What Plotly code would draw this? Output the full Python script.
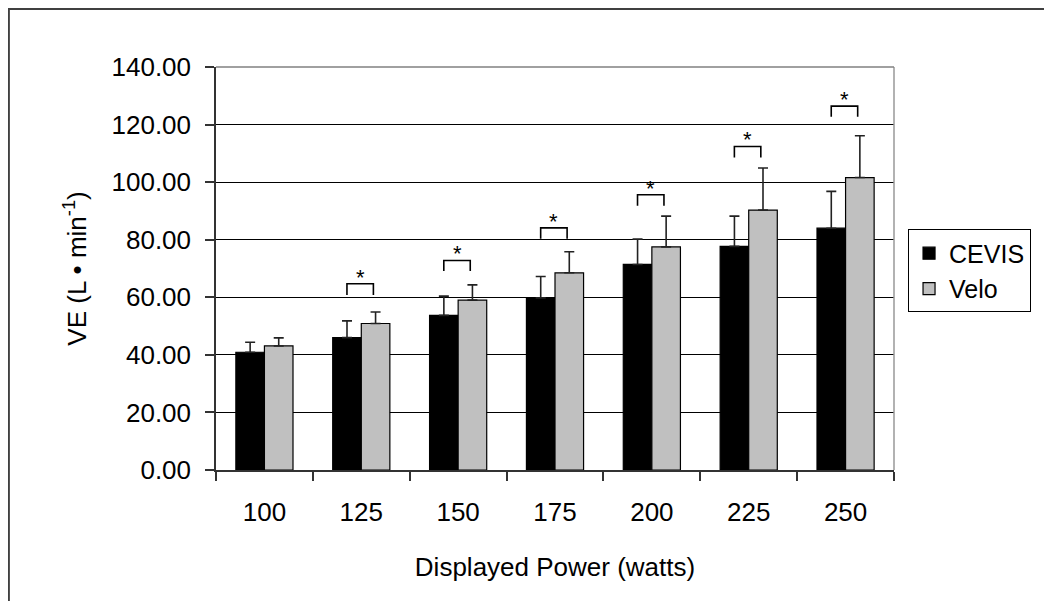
import plotly.graph_objects as go

# ---- data ----
categories = ["100", "125", "150", "175", "200", "225", "250"]
cevis = [40.9, 46.0, 53.7, 59.8, 71.4, 77.7, 84.0]
cevis_sd = [3.5, 5.8, 6.7, 7.4, 8.8, 10.5, 12.8]
velo = [43.1, 50.9, 59.0, 68.5, 77.5, 90.3, 101.6]
velo_sd = [2.8, 4.0, 5.3, 7.3, 10.7, 14.6, 14.5]
# significance brackets: category index, top of bracket, bottom of legs
sig_idx = [1, 2, 3, 4, 5, 6]
sig_top = [64.7, 72.8, 84.1, 95.6, 112.4, 126.4]
sig_bottom = [60.8, 69.1, 80.3, 91.8, 108.6, 122.7]
y_ticks = [0, 20, 40, 60, 80, 100, 120, 140]

FONT = "Liberation Sans, Arial, sans-serif"
FS = 26

W, H = 1052, 601
ML, MT = 208, 59
PW, PH = 677.6, 402.6
MR = W - ML - PW
MB = H - MT - PH

fig = go.Figure()
fig.add_trace(go.Bar(
    name="CEVIS", x=categories, y=cevis,
    marker=dict(color="black", line=dict(color="black", width=1.2)),
    error_y=dict(type="data", array=cevis_sd, symmetric=False,
                 arrayminus=[0] * len(cevis_sd),
                 color="#222222", thickness=1.6, width=5),
))
fig.add_trace(go.Bar(
    name="Velo", x=categories, y=velo,
    marker=dict(color="#C0C0C0", line=dict(color="black", width=1.2)),
    error_y=dict(type="data", array=velo_sd, symmetric=False,
                 arrayminus=[0] * len(velo_sd),
                 color="#222222", thickness=1.6, width=5),
))

shapes = []
annotations = []
for i, top, bot in zip(sig_idx, sig_top, sig_bottom):
    x0, x1 = i - 0.148, i + 0.125
    shapes.append(dict(type="path", xref="x", yref="y",
                       path=f"M {x0},{bot} L {x0},{top} L {x1},{top} L {x1},{bot}",
                       line=dict(color="black", width=1.6)))
    annotations.append(dict(x=(x0 + x1) / 2, y=top, xref="x", yref="y",
                            text="*", showarrow=False, yanchor="bottom",
                            yshift=-8, font=dict(family=FONT, size=22, color="black")))

# plot-area border (top and right, gray)
shapes.append(dict(type="line", xref="paper", yref="paper", x0=1, x1=1, y0=0, y1=1,
                   line=dict(color="#999999", width=1.5)))
shapes.append(dict(type="line", xref="paper", yref="paper", x0=0, x1=1, y0=1, y1=1,
                   line=dict(color="#808080", width=1.5)))
# outer chart frame (near the figure's left and top edges)
fx0 = (1.0 - ML) / PW
fy1 = (H - MB - 1.0) / PH
shapes.append(dict(type="rect", xref="paper", yref="paper",
                   x0=fx0, x1=2.0, y0=-1.0, y1=fy1,
                   line=dict(color="#404040", width=2)))

fig.update_layout(
    width=W, height=H,
    paper_bgcolor="white", plot_bgcolor="white",
    font=dict(family=FONT, size=FS, color="black"),
    barmode="group", bargap=0.41, bargroupgap=0,
    margin=dict(l=ML, r=MR, t=MT, b=MB, autoexpand=False),
    showlegend=True,
    legend=dict(x=1.0207, y=0.597, xanchor="left", yanchor="top",
                bordercolor="black", borderwidth=1, bgcolor="white",
                font=dict(family=FONT, size=25, color="black"),
                itemwidth=30, tracegroupgap=2),
    shapes=shapes, annotations=annotations,
)
fig.update_xaxes(
    type="category", tickson="boundaries", ticks="outside", ticklen=9,
    tickcolor="#333333", tickwidth=1.5,
    showline=True, linecolor="#333333", linewidth=1.5,
    showgrid=False, ticklabelstandoff=18,
    title=dict(text="Displayed Power (watts)", standoff=32,
               font=dict(family=FONT, size=FS)),
    tickfont=dict(family=FONT, size=FS),
)
fig.update_yaxes(
    range=[0, 140], tickvals=y_ticks, tickformat=".2f",
    ticks="outside", ticklen=9, tickcolor="#333333", tickwidth=1.5,
    showline=True, linecolor="#333333", linewidth=1.5,
    showgrid=True, gridcolor="black", gridwidth=1, zeroline=False,
    ticklabelstandoff=9,
    title=dict(text="VE (L \u2022 min<sup>-1</sup>)", standoff=17,
               font=dict(family=FONT, size=FS)),
    tickfont=dict(family=FONT, size=FS),
)

fig.write_html("out.html")
